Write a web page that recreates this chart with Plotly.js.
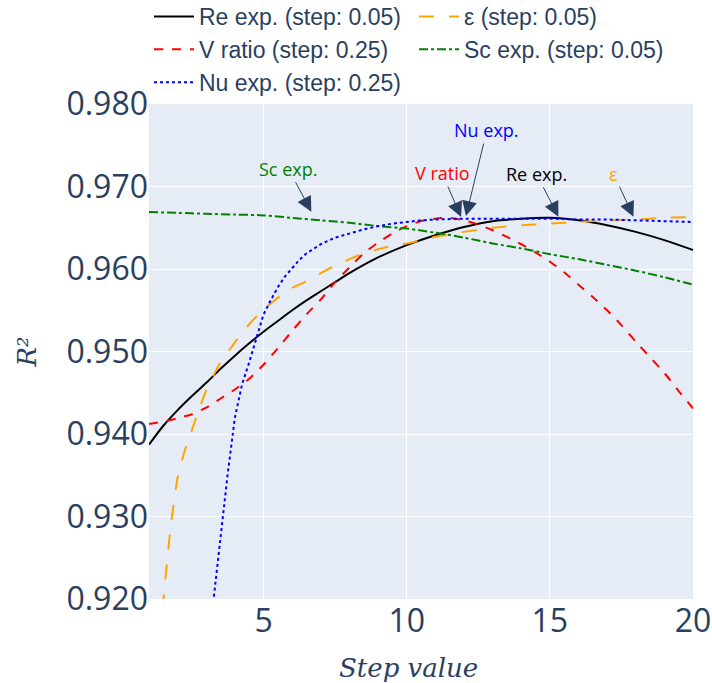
<!DOCTYPE html>
<html>
<head>
<meta charset="utf-8">
<script src="https://cdn.plot.ly/plotly-3.0.1.min.js"></script>
<style>html,body{margin:0;padding:0;background:#fff;}#chart{width:712px;height:683px;}</style>
</head>
<body>
<div id="chart"></div>
<script>
// ---- data ----
const reX = [1,1.5,2,2.5,3,3.5,4,4.5,5,5.5,6,6.5,7,7.5,8,9,10,11,12,13,14,15,16,17,18,19,20];
const reY = [0.9387,0.9410,0.9429,0.9446,0.9462,0.9479,0.9495,0.9510,0.9524,0.9537,0.9550,0.9562,0.9573,0.9584,0.9595,0.9614,0.9629,0.9641,0.9651,0.9658,0.9661,0.9662,0.9659,0.9653,0.9645,0.9635,0.9623];

const epsX = [1,1.25,1.5,1.75,2,2.25,2.5,2.75,3,3.5,4,4.5,5,5.5,6,6.5,7,7.5,8,8.5,9,9.5,10,11,12,13,14,15,16,17,18,19,20];
const epsY = [0.897,0.909,0.9198,0.9285,0.9347,0.9380,0.9405,0.9430,0.9453,0.9487,0.9511,0.9533,0.9551,0.9565,0.9577,0.9585,0.9595,0.9604,0.9612,0.9619,0.9624,0.9628,0.9631,0.9639,0.9645,0.9650,0.9653,0.9655,0.9657,0.9659,0.9660,0.9662,0.9663];

const vX = [1,1.5,2,2.5,3,3.5,4,4.5,5,5.5,6,6.5,7,7.5,8,8.5,9,9.5,10,10.5,11,11.5,12,12.5,13,13.5,14,14.5,15,15.5,16,16.5,17,17.5,18,18.5,19,19.5,20];
const vY = [0.9412,0.9415,0.9419,0.9424,0.9432,0.9443,0.9454,0.9467,0.9484,0.9504,0.9525,0.9545,0.9563,0.9584,0.9602,0.9619,0.9632,0.9643,0.9652,0.9658,0.9661,0.9662,0.9659,0.9654,0.9647,0.9639,0.9630,0.9620,0.9609,0.9596,0.9581,0.9566,0.9550,0.9532,0.9512,0.9493,0.9474,0.9452,0.9431];

const scX = [1,2,3,4,5,6,7,8,9,10,11,12,13,14,15,16,17,18,19,20];
const scY = [0.9669,0.9668,0.9667,0.9666,0.9665,0.9662,0.9659,0.9656,0.9652,0.9649,0.9644,0.9638,0.9631,0.9625,0.9618,0.9612,0.9605,0.9598,0.9590,0.9581];

const nuX = [2.75,3,3.25,3.5,3.75,4,4.25,4.5,4.75,5,5.25,5.5,5.75,6,6.25,6.5,6.75,7,7.5,8,8.5,9,9.5,10,10.5,11,12,13,14,15,16,17,18,19,20];
const nuY = [0.900,0.911,0.9198,0.9276,0.9352,0.9420,0.9460,0.9487,0.9516,0.9545,0.9562,0.9578,0.9591,0.9601,0.9611,0.9619,0.9625,0.9630,0.9638,0.9643,0.9648,0.9652,0.9655,0.9657,0.9659,0.9660,0.9661,0.9661,0.9661,0.9661,0.9660,0.9660,0.9659,0.9658,0.9657];

const seriesNames = ['Re exp. (step: 0.05)','ε (step: 0.05)','V ratio (step: 0.25)','Sc exp. (step: 0.05)','Nu exp. (step: 0.25)'];

// annotation labels and anchor points (x, R²)
const annLabels = ['Sc exp.','V ratio','Nu exp.','Re exp.','ε'];
const annX = [6.67, 11.90, 12.07, 15.30, 17.92];
const annY = [0.96695, 0.96630, 0.96642, 0.96634, 0.96634];

const xTicks = [5,10,15,20];
const yTicks = [0.92,0.93,0.94,0.95,0.96,0.97,0.98];

// ---- styling ----
const annColors = ['green','red','blue','black','orange'];
const annOff = [[-23,-43],[-19,-44],[21,-86],[-22,-43],[-20,-43]];

const traces = [
  {x: reX, y: reY, name: seriesNames[0], mode:'lines', line:{color:'black', width:2, shape:'spline', smoothing:0.8}},
  {x: epsX, y: epsY, name: seriesNames[1], mode:'lines', line:{color:'orange', width:2, dash:'longdash', shape:'spline', smoothing:0.6}},
  {x: vX, y: vY, name: seriesNames[2], mode:'lines', line:{color:'red', width:2, dash:'dash', shape:'spline', smoothing:0.6}},
  {x: scX, y: scY, name: seriesNames[3], mode:'lines', line:{color:'green', width:2, dash:'dashdot', shape:'spline', smoothing:0.8}},
  {x: nuX, y: nuY, name: seriesNames[4], mode:'lines', line:{color:'blue', width:2, dash:'dot'}}
];

const annotations = annLabels.map((t,i)=>({
  x: annX[i], y: annY[i], xref:'x', yref:'y', text: t,
  showarrow:true, arrowhead:2, arrowsize:3, arrowwidth:1, arrowcolor:'#2a3f5f',
  ax: annOff[i][0], ay: annOff[i][1],
  font:{size:18, color: annColors[i]}
}));

const layout = {
  width:712, height:683,
  margin:{l:149, r:19, t:104, b:84, pad:0, autoexpand:false},
  paper_bgcolor:'white', plot_bgcolor:'#E5ECF6',
  font:{color:'#2a3f5f'},
  showlegend:true,
  legend:{orientation:'h', x:0, xanchor:'left', y:1, yanchor:'bottom', itemwidth:40, entrywidth:210, entrywidthmode:'pixels',
    font:{family:'Arial', size:23, color:'#2a3f5f'}, bgcolor:'rgba(0,0,0,0)'},
  xaxis:{range:[1,20], tickvals:xTicks, gridcolor:'white', zeroline:false, showline:false, ticks:'',
    tickfont:{size:32, color:'#2a3f5f'},
    title:{text:'<i>Step value\u00a0\u00a0\u00a0</i>', font:{family:'DejaVu Serif', size:26, color:'#2a3f5f'}}},
  yaxis:{range:[0.92,0.98], tickvals:yTicks, tickformat:'.3f', gridcolor:'white', zeroline:false, showline:false, ticks:'',
    tickfont:{size:32, color:'#2a3f5f'},
    title:{text:'<i>R²</i>', standoff:22, font:{family:'DejaVu Serif', size:26, color:'#2a3f5f'}}},
  annotations: annotations
};

Plotly.newPlot('chart', traces, layout, {displayModeBar:false, staticPlot:true});
</script>
</body>
</html>
